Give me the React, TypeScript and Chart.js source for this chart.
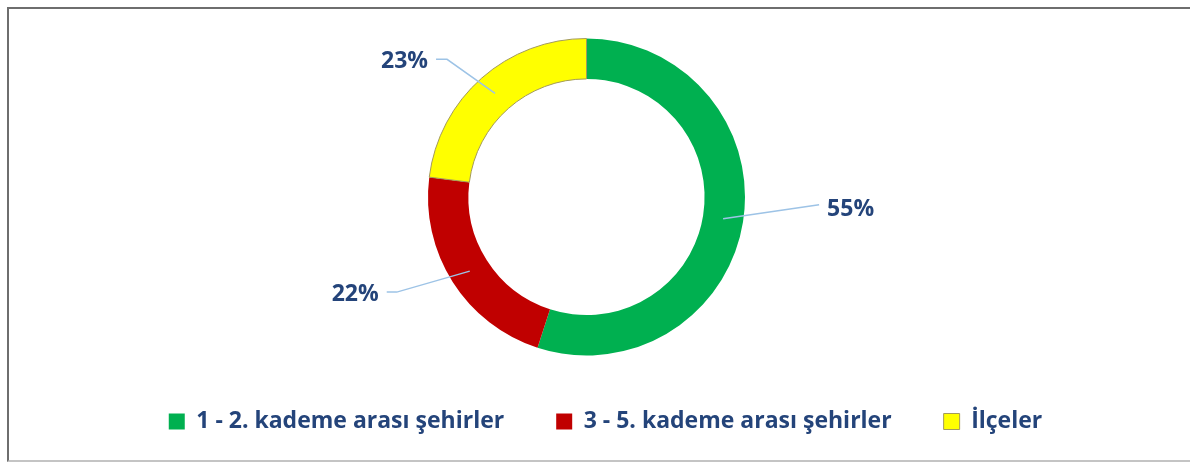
import React, { useEffect, useRef } from "react";
import { Chart, registerables } from "chart.js";

Chart.register(...registerables);

const categories = ["1 - 2. kademe arası şehirler", "3 - 5. kademe arası şehirler", "İlçeler"];
const values = [55, 22, 23];
const fillColors = ["#00b050", "#c00000", "#ffff00"];
const edgeColors = ["#00b050", "#c00000", "#a39a5c"];
const edgeWidths = [0, 0, 1];

const TEXT_COLOR = "#24447a";
const LEADER_COLOR = "#9dc3e6";
const FONT = "'Open Sans', Lato, sans-serif";

// leader line layout relative to the arc mid-point (style/layout, not data)
const leaderLayout = [
  { pts: [[96, -14]], text: [104, -9], align: "left" },
  { pts: [[-73, 21], [-83, 21]], text: [-91, 23], align: "right" },
  { pts: [[-48, -34], [-59, -34]], text: [-67, -32], align: "right" },
];

const leaderPlugin = {
  id: "leaderLabels",
  afterDatasetsDraw(chart: any) {
    const ctx = chart.ctx;
    const meta = chart.getDatasetMeta(0);
    const data = chart.data.datasets[0].data as number[];
    meta.data.forEach((arc: any, i: number) => {
      const p = arc.getProps(["x", "y", "startAngle", "endAngle", "innerRadius", "outerRadius"], true);
      const mid = (p.startAngle + p.endAngle) / 2;
      const r = (p.innerRadius + p.outerRadius) / 2;
      const ax = p.x + Math.cos(mid) * r;
      const ay = p.y + Math.sin(mid) * r;
      const lay = leaderLayout[i];
      ctx.save();
      ctx.strokeStyle = LEADER_COLOR;
      ctx.lineWidth = 1.5;
      ctx.beginPath();
      ctx.moveTo(ax, ay);
      lay.pts.forEach((q) => ctx.lineTo(ax + q[0], ay + q[1]));
      ctx.stroke();
      ctx.fillStyle = TEXT_COLOR;
      ctx.font = `bold 23px ${FONT}`;
      ctx.textAlign = lay.align as CanvasTextAlign;
      ctx.textBaseline = "middle";
      ctx.fillText(`${data[i]}%`, ax + lay.text[0], ay + lay.text[1]);
      ctx.restore();
    });
  },
};

// nudge the legend box (layout only)
const legendShift = {
  id: "legendShift",
  afterLayout(chart: any) {
    const lg = chart.legend;
    if (!lg) return;
    lg.left += 19;
    lg.right += 19;
    lg.top += 2;
    lg.bottom += 2;
  },
};

export default function App() {
  const ref = useRef<HTMLCanvasElement>(null);
  useEffect(() => {
    if (!ref.current) return;
    const chart = new Chart(ref.current, {
      type: "doughnut",
      data: {
        labels: categories,
        datasets: [
          {
            data: values,
            backgroundColor: fillColors,
            borderColor: edgeColors,
            borderWidth: edgeWidths,
            hoverOffset: 0,
          },
        ],
      },
      options: {
        responsive: false,
        devicePixelRatio: 1,
        animation: false,
        cutout: "74.5%",
        layout: { padding: { top: 38, right: 17, left: 0, bottom: 21 } },
        plugins: {
          tooltip: { enabled: false },
          legend: {
            position: "bottom",
            labels: {
              boxWidth: 16,
              boxHeight: 16,
              padding: 52,
              color: TEXT_COLOR,
              font: { family: FONT, size: 23, weight: "bold" },
            },
          },
        },
      },
      plugins: [leaderPlugin, legendShift],
    });
    return () => chart.destroy();
  }, []);
  return (
    <div style={{ position: "absolute", left: 0, top: 0, width: 1190, height: 462, overflow: "hidden", background: "#fff" }}>
      <div
        style={{
          position: "absolute",
          left: 7,
          top: 7,
          width: 1300,
          height: 451,
          borderTop: "2px solid #6e6e6e",
          borderLeft: "2px solid #6e6e6e",
          borderBottom: "2px solid #c4c4c4",
        }}
      />
      <canvas ref={ref} width={1190} height={462} style={{ position: "absolute", left: 0, top: 0 }} />
    </div>
  );
}
